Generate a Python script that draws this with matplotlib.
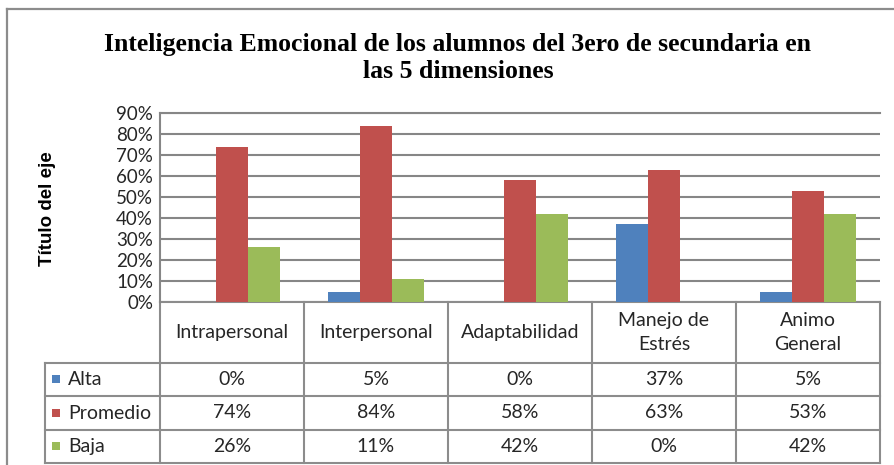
import matplotlib
matplotlib.use("Agg")
import matplotlib.pyplot as plt
from matplotlib.transforms import Affine2D, blended_transform_factory
from matplotlib.patches import Rectangle
from matplotlib.lines import Line2D
import numpy as np

categories = ["Intrapersonal", "Interpersonal", "Adaptabilidad", "Manejo de\nEstrés", "Animo\nGeneral"]
series_names = ["Alta", "Promedio", "Baja"]
alta = [0.00, 0.05, 0.00, 0.37, 0.05]
promedio = [0.74, 0.84, 0.58, 0.63, 0.53]
baja = [0.26, 0.11, 0.42, 0.00, 0.42]
series_values = [alta, promedio, baja]
colors = ["#4F81BD", "#C0504D", "#9BBB59"]
yticks = [0, 0.1, 0.2, 0.3, 0.4, 0.5, 0.6, 0.7, 0.8, 0.9]
title = "Inteligencia Emocional de los alumnos del 3ero de secundaria en\nlas 5 dimensiones"
ylabel = "Título del eje"

W, H = 894, 465
fig = plt.figure(figsize=(W / 100, H / 100), dpi=100)
T = Affine2D().scale(1, -1).translate(0, H).scale(0.01) + fig.dpi_scale_trans

GRID = "#868686"
TXT = "#262626"
FONT = "Lato"
FS = 14

# outer frame
fig.add_artist(Line2D([7, 7], [9, H + 5], transform=T, color="#8c8c8c", lw=1.6))
fig.add_artist(Line2D([7, W + 5], [9, 9], transform=T, color="#8c8c8c", lw=1.6))

pl, pr, pt, pb = 160, 880, 113, 302
ax = fig.add_axes([pl / W, (H - pb) / H, (pr - pl) / W, (pb - pt) / H])
n = len(categories)
x = np.arange(n)
bw = 1 / 4.5
for k, (vals, c) in enumerate(zip(series_values, colors)):
    ax.bar(x + (k - 1) * bw, vals, width=bw, color=c, zorder=3)
ax.set_xlim(-0.5, n - 0.5)
ax.set_ylim(0, 0.9)
ax.set_yticks(yticks)
ax.set_yticklabels([f"{int(round(v * 100))}%" for v in yticks], fontsize=13.5, family=FONT, color=TXT)
ax.tick_params(axis="y", length=0, pad=5)
ax.set_xticks([])
ax.grid(axis="y", color=GRID, lw=1.5, zorder=0)
for s in ["right", "bottom"]:
    ax.spines[s].set_visible(False)
ax.spines["left"].set_color(GRID)
ax.spines["left"].set_linewidth(1.5)
ax.spines["top"].set_color(GRID)
ax.spines["top"].set_linewidth(1.5)

fig.text(48 / W, (H - 209) / H, ylabel, rotation=90, ha="center", va="center",
         fontsize=13.5, fontweight="bold", family=["Liberation Sans"], color="black")

fig.text(458 / W, (H - 58) / H, title, ha="center", va="center", fontsize=18.5,
         fontweight="bold", family=["Liberation Serif"], color="black", linespacing=1.22)

# data table
B = blended_transform_factory(ax.transData, T)
rows_y = [302, 363, 396, 430, 463]
lc = "#8c8c8c"
for xb in np.arange(-0.5, n, 1.0):
    ax.add_line(Line2D([xb, xb], [rows_y[0], rows_y[-1]], transform=B, color=lc, lw=1.5, clip_on=False))
ax.add_line(Line2D([-0.5, n - 0.5], [302, 302], transform=B, color=lc, lw=1.5, clip_on=False))
for yy in rows_y[1:]:
    fig.add_artist(Line2D([45, pr], [yy, yy], transform=T, color=lc, lw=1.5))
fig.add_artist(Line2D([45, 45], [363, 463], transform=T, color=lc, lw=1.5))

for i, cat in enumerate(categories):
    ax.text(i, (302 + 363) / 2, cat, transform=B, ha="center", va="center", fontsize=FS,
            family=FONT, color=TXT, linespacing=1.45, clip_on=False)
for r, (name, vals, c) in enumerate(zip(series_names, series_values, colors)):
    yc = (rows_y[r + 1] + rows_y[r + 2]) / 2
    fig.add_artist(Rectangle((52, yc - 4), 8, 8, transform=T, facecolor=c, edgecolor="none"))
    fig.text(68 / W, (H - yc) / H, name, ha="left", va="center", fontsize=FS, family=FONT, color=TXT)
    for i, v in enumerate(vals):
        ax.text(i, yc, f"{int(round(v * 100))}%", transform=B, ha="center", va="center",
                fontsize=FS, family=FONT, color=TXT, clip_on=False)

fig.savefig("out.png", dpi=100)
